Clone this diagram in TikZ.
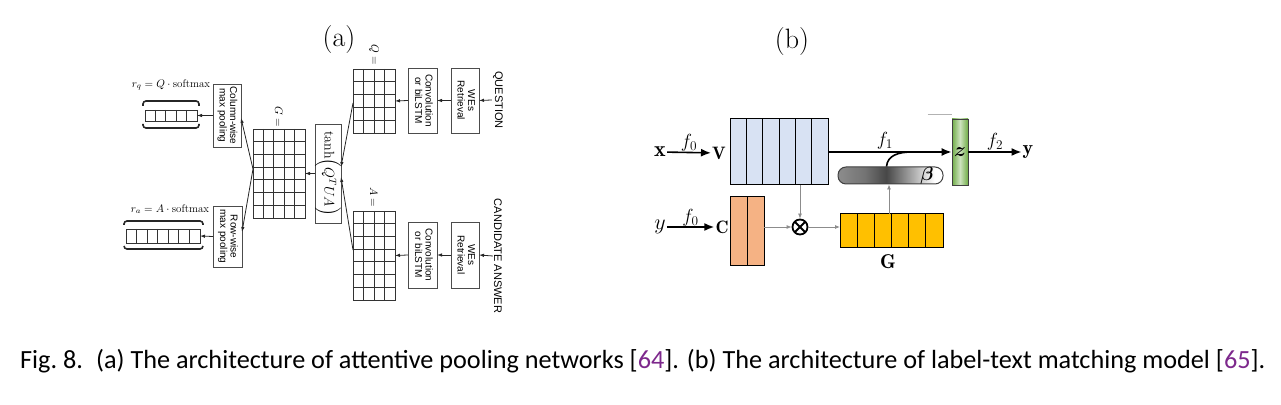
\RequirePackage{fix-cm}
\documentclass[tikz,border=0pt]{standalone}
\usepackage{amsmath,bm}
\usepackage{fontspec}
\newfontfamily\capfont{Carlito}
\newfontfamily\boxfont{Liberation Sans}
\usetikzlibrary{arrows.meta,positioning,calc}

\definecolor{citepurple}{RGB}{125,40,140}
\definecolor{vblue}{RGB}{216,226,243}
\definecolor{corange}{RGB}{245,178,132}
\definecolor{gyellow}{RGB}{255,192,0}
\definecolor{zgreen}{RGB}{112,173,71}
\pgfdeclarehorizontalshading{betashade}{100bp}{color(0bp)=(black!45); color(25bp)=(black!45); color(38bp)=(black!55); color(48bp)=(black!72); color(60bp)=(black!35); color(71bp)=(white); color(100bp)=(white)}

% cell separators inside a node
\newcommand{\vlines}[3][]{\foreach \k in {1,...,#3}{\draw[#1] ($(#2.north west)!\k/#3!(#2.north east)$) -- ($(#2.south west)!\k/#3!(#2.south east)$);}}
\newcommand{\hlines}[3][]{\foreach \k in {1,...,#3}{\draw[#1] ($(#2.north west)!\k/#3!(#2.south west)$) -- ($(#2.north east)!\k/#3!(#2.south east)$);}}

\begin{document}
\begin{tikzpicture}[
  x=1pt,y=1pt,
  >=Latex,
  grd/.style={draw=black!80, line width=0.9pt, inner sep=0, outer sep=0},
  pbox/.style={draw=black!70, line width=0.8pt, fill=white, inner sep=0, outer sep=0, font=\boxfont\fontsize{10}{10.5}\selectfont, align=center},
  tarr/.style={-{Latex[length=5pt,width=3.5pt]}, draw=black!85, line width=0.8pt},
  brk/.style={draw=black!85, line width=1.6pt, rounded corners=3pt},
  glab/.style={font=\fontsize{11}{13}\selectfont, inner sep=1pt},
  rlab/.style={font=\fontsize{11}{13}\selectfont},
  cell/.style={draw=black, line width=1pt, inner sep=0, outer sep=0},
  barr/.style={-{Latex[length=10pt,width=8pt]}, line width=1.6pt},
  garr/.style={-{Latex[length=5pt,width=4pt]}, draw=black!45, line width=0.8pt},
  blab/.style={font=\fontsize{18}{20}\selectfont, inner sep=1pt},
  biglab/.style={font=\fontsize{22}{24}\selectfont, inner sep=1pt},
  flab/.style={font=\fontsize{19}{21}\selectfont, inner sep=1pt},
  title/.style={font=\fontsize{28}{32}\selectfont}
]
\useasboundingbox (0,0) rectangle (1281,404);

% Titles
\node[title] (ta) at (339,364) {(a)};
\node[title] (tb) at (792,362) {(b)};

% ================= (a) attentive pooling =================
\node[grd, minimum width=42pt, minimum height=64pt] (qg) at (374,303) {};
\vlines[grd]{qg}{4} \hlines[grd]{qg}{5}
\node[glab] (qlab) at (374,349) {\rotatebox{-90}{$Q=$}};
\node[pbox, minimum width=29pt, minimum height=65pt] (qconv) at (422.5,303.5)
  {\rotatebox{-90}{\begin{tabular}{@{}c@{}}Convolution\\or biLSTM\end{tabular}}};
\node[pbox, minimum width=28pt, minimum height=65pt] (qwe) at (465,303.5)
  {\rotatebox{-90}{\begin{tabular}{@{}c@{}}WEs\\Retrieval\end{tabular}}};
\node[font=\boxfont\fontsize{11}{13}\selectfont, inner sep=1pt] (qtxt) at (498,304) {\rotatebox{-90}{QUESTION}};

\node[grd, minimum width=42pt, minimum height=89pt] (ag) at (374,148.5) {};
\vlines[grd]{ag}{4} \hlines[grd]{ag}{7}
\node[glab] (alab) at (374,207) {\rotatebox{-90}{$A=$}};
\node[pbox, minimum width=29pt, minimum height=66pt] (aconv) at (422.5,149)
  {\rotatebox{-90}{\begin{tabular}{@{}c@{}}Convolution\\or biLSTM\end{tabular}}};
\node[pbox, minimum width=28pt, minimum height=66pt] (awe) at (465,149)
  {\rotatebox{-90}{\begin{tabular}{@{}c@{}}WEs\\Retrieval\end{tabular}}};
\node[font=\boxfont\fontsize{11}{13}\selectfont, inner sep=1pt] (atxt) at (498,148) {\rotatebox{-90}{CANDIDATE ANSWER}};

\node[pbox, minimum width=26pt, minimum height=99pt] (tanh) at (328,230.5)
  {\rotatebox{-90}{\fontsize{14}{16}\selectfont$\tanh\Bigl(Q^TUA\Bigr)$}};
\node[grd, minimum width=52pt, minimum height=89pt] (gg) at (279,230.5) {};
\vlines[grd]{gg}{5} \hlines[grd]{gg}{7}
\node[glab] (glab) at (279,287) {\rotatebox{-90}{$G=$}};

\node[pbox, minimum width=28pt, minimum height=63pt] (colb) at (227,288.5)
  {\rotatebox{-90}{\begin{tabular}{@{}c@{}}Column-wise\\max pooling\end{tabular}}};
\node[pbox, minimum width=29pt, minimum height=61pt] (rowb) at (227.5,167.5)
  {\rotatebox{-90}{\begin{tabular}{@{}c@{}}Row-wise\\max pooling\end{tabular}}};

\node[grd, minimum width=52pt, minimum height=11pt] (rq) at (171,288.5) {};
\vlines[grd]{rq}{5}
\node[grd, minimum width=74pt, minimum height=14pt] (ra) at (163,168) {};
\vlines[grd]{ra}{7}
\node[rlab] (rqlab) at (171,319) {$r_q = Q\cdot\mathrm{softmax}$};
\node[rlab] (ralab) at (170,195) {$r_a = A\cdot\mathrm{softmax}$};

\draw[brk] ([shift={(-2pt,4pt)}]rq.north west) |- ([yshift=9pt]rq.north) -| ([shift={(2pt,4pt)}]rq.north east);
\draw[brk] ([shift={(-2pt,-3pt)}]rq.south west) |- ([yshift=-7pt]rq.south) -| ([shift={(2pt,-3pt)}]rq.south east);
\draw[brk] ([shift={(-2pt,4pt)}]ra.north west) |- ([yshift=8pt]ra.north) -| ([shift={(3pt,4pt)}]ra.north east);
\draw[brk] ([shift={(-2pt,-3pt)}]ra.south west) |- ([yshift=-6pt]ra.south) -| ([shift={(3pt,-3pt)}]ra.south east);

\draw[tarr] (qtxt.west) -- (qwe.east);
\draw[tarr] (qwe.west) -- (qconv.east);
\draw[tarr] (qconv.west) -- (qg.east);
\draw[tarr] (atxt.west) -- (awe.east);
\draw[tarr] (awe.west) -- (aconv.east);
\draw[tarr] (aconv.west) -- (ag.east);
\draw[tarr] ([yshift=-2pt]qg.west) -- ([yshift=6.5pt]tanh.east);
\draw[tarr] ([yshift=5.5pt]ag.west) -- ([yshift=-3.5pt]tanh.east);
\draw[tarr] (tanh.west) -- (gg.east);
\draw[tarr] ([yshift=4.5pt]gg.west) -- ([yshift=-2.5pt]colb.east);
\draw[tarr] ([yshift=4.5pt]gg.west) -- ([yshift=4.5pt]rowb.east);
\draw[tarr] (colb.west) -- (rq.east);
\draw[tarr] (rowb.west) -- (ra.east);

% ================= (b) label-text matching =================
\node[biglab] (xin) at (660,252) {$\mathbf{x}$};
\node[blab] (vlab) at (719,251) {$\mathbf{V}$};
\node[biglab] (yin) at (660,177) {$y$};
\node[blab] (clab) at (722,177) {$\mathbf{C}$};

\node[cell, fill=vblue, minimum width=98pt, minimum height=66pt] (vbox) at (779,252) {};
\vlines[cell]{vbox}{6}
\node[cell, fill=corange, minimum width=34pt, minimum height=69pt] (cbox) at (747,172.5) {};
\vlines[cell]{cbox}{2}
\node[circle, draw, line width=1.8pt, minimum size=15pt, inner sep=0,
  path picture={\draw[line width=1.8pt] (path picture bounding box.north west) -- (path picture bounding box.south east)
    (path picture bounding box.north east) -- (path picture bounding box.south west);}] (ot) at (800,177) {};
\node[cell, fill=gyellow, minimum width=103pt, minimum height=34pt] (gb) at (891.5,173) {};
\vlines[cell]{gb}{6}
\node[font=\fontsize{20}{22}\selectfont, inner sep=1pt] (gblab) at (888,142) {$\mathbf{G}$};

\node[draw=black!75, line width=1pt, rounded corners=8pt, shading=betashade,
  minimum width=105pt, minimum height=17pt, inner sep=0] (beta) at (890.5,228.5) {};
\node[flab] (betalab) at (927,228) {$\bm{\beta}$};

\node[draw=black!75, line width=0.8pt, left color=zgreen, right color=zgreen, middle color=zgreen!35,
  minimum width=16pt, minimum height=66pt, inner sep=0, font=\fontsize{20}{22}\selectfont] (zbox) at (960,252) {$\bm{z}$};
\node[font=\fontsize{20}{22}\selectfont, inner sep=1pt] (yout) at (1028,252) {$\mathbf{y}$};

\draw[barr] (xin) -- node[above=-1pt, flab] {$f_0$} (vlab);
\draw[barr] (yin) -- node[above=-1pt, flab] {$f_0$} (clab);
\draw[barr] (vbox.east) -- node[pos=0.46, above=1pt, flab] {$f_1$} (zbox.west);
\draw[barr] (zbox.east) -- node[above=0pt, flab] {$f_2$} (yout);
\coordinate (bjoin) at ($(vbox.east)!0.68!(zbox.west)$);
\draw[line width=1.6pt] ([xshift=-4pt]beta.north) .. controls +(1,11) and +(-14,0) .. (bjoin);
\draw[black!30, line width=1pt] ([shift={(-24pt,4pt)}]zbox.north west) -- ([yshift=4pt]zbox.north west);

\draw[garr] (ot |- vbox.south) -- (ot.north);
\draw[garr] (cbox.east |- ot) -- (ot.west);
\draw[garr] (ot.east) -- (ot -| gb.west);
\draw[garr] ([xshift=-2.5pt]gb.north) -- ([xshift=-2.5pt]gb.north |- beta.south);

% Caption
\node[anchor=base west, inner sep=0] (cap) at (20,35)
  {\resizebox{1245pt}{!}{\capfont\fontsize{22}{26}\selectfont Fig.~8.\hspace{0.5em}(a) The architecture of attentive pooling networks [\textcolor{citepurple}{64}]. (b) The architecture of label-text matching model [\textcolor{citepurple}{65}].}};
\end{tikzpicture}
\end{document}
